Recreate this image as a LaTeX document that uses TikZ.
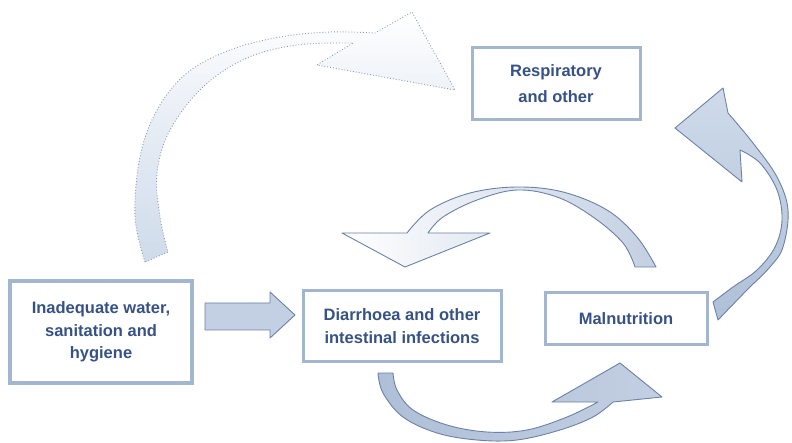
\documentclass[tikz,border=0pt]{standalone}
\usepackage{fontspec}
\setmainfont{Liberation Sans}
\definecolor{boxline}{HTML}{A3B5CF}
\definecolor{txt}{HTML}{365284}
\definecolor{arrline}{HTML}{6B81A7}
\definecolor{arrfill}{HTML}{C3CFE2}
\definecolor{arrfilld}{HTML}{AEBFD7}
\definecolor{arrlight}{HTML}{CFDBEA}
\definecolor{dotline}{HTML}{8A9CB9}
\tikzset{
  boxnode/.style={draw=boxline, line width=3pt, fill=white, align=center,
    text=txt, font=\bfseries\fontsize{16.5}{23}\selectfont, inner sep=2pt},
  blockarrow/.style={draw=arrline, line width=0.9pt, line join=round},
}
\begin{document}
\begin{tikzpicture}[x=1pt,y=-1pt]
\useasboundingbox (0,0) rectangle (792,443);
% top-left dotted curved arrow
\draw[dotline, dotted, line width=0.9pt, top color=white, bottom color=arrlight, middle color=white!45!arrlight]
  plot[smooth, tension=0.6] coordinates {(145,262) (135,217) (140,157) (157,110) (187,73) (230,50) (280,37) (330,32) (375,33)}
  -- (412,12) -- (455,90) -- (317,65) --
  plot[smooth, tension=0.6] coordinates {(353,43) (297,45) (247,58) (203,87) (170,130) (157,173) (160,217) (168,252)}
  -- cycle;
% right curved arrow (malnutrition -> respiratory)
\draw[blockarrow, top color=arrlight, bottom color=arrfilld]
  plot[smooth, tension=0.6] coordinates {(718,320) (747,290) (770,267) (783,247) (788,210) (777,177) (753,143) (728,113)}
  -- (723,88) -- (675,128) -- (742,182) --
  plot[smooth, tension=0.6] coordinates {(740,150) (760,163) (777,190) (782,220) (775,247) (757,270) (733,287) (713,302)}
  -- cycle;
% top middle arrow (malnutrition -> diarrhoea)
\draw[blockarrow, left color=white, middle color=white, right color=arrfill]
  plot[smooth, tension=0.6] coordinates {(656,267) (637,237) (607,210) (563,192) (517,187) (470,193) (430,210) (407,233)}
  -- (342,233) -- (405,267) -- (490,233) --
  plot[smooth, tension=0.6] coordinates {(428,233) (443,217) (477,200) (517,190) (557,197) (593,217) (623,243) (635,267)}
  -- cycle;
% bottom arrow (diarrhoea -> malnutrition)
\draw[blockarrow, left color=arrfilld, right color=arrfill]
  plot[smooth, tension=0.6] coordinates {(378,373) (383,393) (403,417) (437,433) (477,440) (517,440) (560,430) (593,417) (613,402)}
  -- (662,397) -- (620,363) -- (552,402) --
  plot[smooth, tension=0.6] coordinates {(598,402) (567,417) (527,430) (487,432) (447,425) (413,410) (397,390) (393,373)}
  -- cycle;
% boxes
\node[boxnode, font=\bfseries\fontsize{16.5}{22.5}\selectfont, line width=3.5pt, minimum width=182pt, minimum height=102pt] (inad) at (101,332)
  {Inadequate water,\\sanitation and\\hygiene};
\node[boxnode, minimum width=198pt, minimum height=70pt] (diar) at (402,326)
  {Diarrhoea and other\\intestinal infections};
\node[boxnode, minimum width=162pt, minimum height=52pt] (maln) at (626,319)
  {Malnutrition};
\node[boxnode, font=\bfseries\fontsize{16.5}{26}\selectfont, minimum width=168pt, minimum height=72pt] (resp) at (556,84)
  {Respiratory\\and other};
% straight block arrow
\draw[blockarrow, fill=arrfill]
  (205,303) -- (270,303) -- (270,292) -- (295,315) -- (270,338) -- (270,330) -- (205,330) -- cycle;
\end{tikzpicture}
\end{document}
